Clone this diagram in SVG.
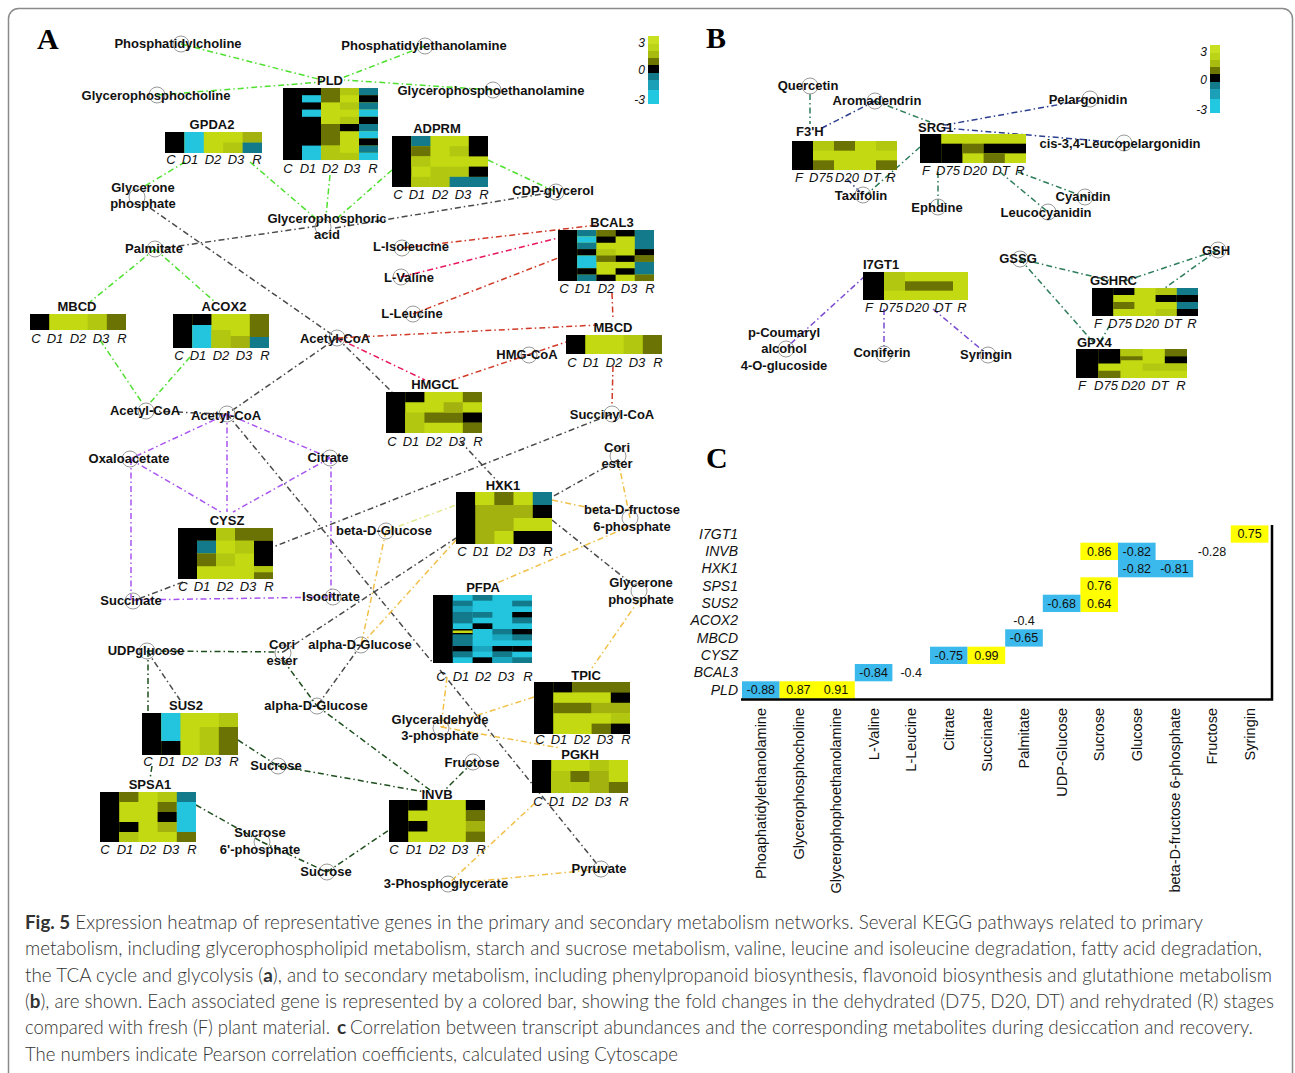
<svg xmlns="http://www.w3.org/2000/svg" width="1295" height="1073" viewBox="0 0 1295 1073">
<style>
text{font-family:"Liberation Sans",Arial,sans-serif;fill:#111}
.m{font-size:13px;font-weight:bold;text-anchor:middle}
.gl{font-size:13px;font-weight:bold;text-anchor:middle}
.gb{font-size:13px;font-weight:bold}
.cl{font-size:13px;font-style:italic;text-anchor:middle}
.nc{fill:none;stroke:#999;stroke-width:1}
.k{fill:#000}.y1{fill:#c3da12}.y2{fill:#b2c70f}.y3{fill:#a3b20e}.o{fill:#6b7304}.t{fill:#127a8a}.c{fill:#22c4de}.c2{fill:#1aa6bf}
.e{fill:none;stroke-width:1.5;stroke-dasharray:6 3 1.5 3}
.g{stroke:#4fe030}.d{stroke:#4a4a4a}.r{stroke:#d03a28}.p{stroke:#e8185a}.v{stroke:#a855f0}.yy{stroke:#f0c048}.yl{stroke:#e4e890}.dg{stroke:#1f4f1f}
.bg{stroke:#2e7d5b}.bb{stroke:#2c3f8f}.bp{stroke:#7a4bd0}
.rl{font-size:14px;font-style:italic;text-anchor:end}
.cv{font-size:12.5px;text-anchor:middle}
.xl{font-size:14.5px;text-anchor:end}
.cap{font-family:Lato,"Liberation Sans",sans-serif;font-weight:300;font-size:19px;fill:#333}
.capb{font-family:Lato,"Liberation Sans",sans-serif;font-weight:bold;font-size:19px;fill:#333}
.pl{font-family:"Liberation Serif",serif;font-weight:bold;font-size:30px;fill:#000}
.bar{font-size:12px;font-style:italic;text-anchor:end}
</style>
<rect x="0" y="0" width="1295" height="1073" fill="#fff"/>
<rect x="8.5" y="8.5" width="1284" height="1090" rx="10" fill="#fff" stroke="#8a8a8a" stroke-width="1.5"/>

<text class="pl" x="37" y="49">A</text>
<text class="pl" x="706" y="48">B</text>
<text class="pl" x="706" y="468">C</text>

<!-- colour bars -->
<g id="bar-a">
<rect x="648" y="36" width="11" height="8" fill="#c8e020"/><rect x="648" y="44" width="11" height="7" fill="#bcd418"/><rect x="648" y="51" width="11" height="7" fill="#a8bc10"/><rect x="648" y="58" width="11" height="7" fill="#6c7600"/><rect x="648" y="65" width="11" height="8" fill="#000"/><rect x="648" y="73" width="11" height="7" fill="#127a8a"/><rect x="648" y="80" width="11" height="10" fill="#1ba0b8"/><rect x="648" y="90" width="11" height="14" fill="#22c8e0"/>
<text class="bar" x="645" y="47">3</text><text class="bar" x="645" y="74">0</text><text class="bar" x="645" y="104">-3</text>
</g>
<g id="bar-b">
<rect x="1210" y="45" width="10" height="8" fill="#c8e020"/><rect x="1210" y="53" width="10" height="7" fill="#bcd418"/><rect x="1210" y="60" width="10" height="7" fill="#a8bc10"/><rect x="1210" y="67" width="10" height="7" fill="#6c7600"/><rect x="1210" y="74" width="10" height="8" fill="#000"/><rect x="1210" y="82" width="10" height="7" fill="#127a8a"/><rect x="1210" y="89" width="10" height="10" fill="#1ba0b8"/><rect x="1210" y="99" width="10" height="14" fill="#22c8e0"/>
<text class="bar" x="1207" y="56">3</text><text class="bar" x="1207" y="84">0</text><text class="bar" x="1207" y="114">-3</text>
</g>

<g id="connectors">
<!-- green glycerophospholipid -->
<line class="e g" x1="181" y1="44" x2="322" y2="80"/>
<line class="e g" x1="157" y1="95" x2="322" y2="82"/>
<line class="e g" x1="425" y1="46" x2="342" y2="78"/>
<line class="e g" x1="493" y1="90" x2="344" y2="80"/>
<line class="e g" x1="330" y1="175" x2="326" y2="216"/>
<line class="e g" x1="250" y1="162" x2="320" y2="222"/>
<line class="e g" x1="185" y1="162" x2="145" y2="186"/>
<line class="e g" x1="392" y1="170" x2="333" y2="222"/>
<line class="e g" x1="488" y1="160" x2="556" y2="192"/>
<line class="e g" x1="155" y1="249" x2="90" y2="302"/>
<line class="e g" x1="155" y1="249" x2="215" y2="302"/>
<line class="e g" x1="100" y1="340" x2="143" y2="404"/>
<line class="e g" x1="190" y1="357" x2="149" y2="404"/>
<!-- grey -->
<line class="e d" x1="318" y1="226" x2="165" y2="248"/>
<line class="e d" x1="335" y1="228" x2="548" y2="193"/>
<line class="e d" x1="150" y1="208" x2="337" y2="338"/>
<line class="e d" x1="337" y1="338" x2="392" y2="392"/>
<line class="e d" x1="460" y1="441" x2="500" y2="484"/>
<line class="e d" x1="337" y1="338" x2="227" y2="414"/>
<line class="e d" x1="150" y1="411" x2="224" y2="414"/>
<line class="e d" x1="612" y1="414" x2="273" y2="547"/>
<line class="e d" x1="618" y1="460" x2="552" y2="497"/>
<line class="e d" x1="552" y1="520" x2="633" y2="585"/>
<line class="e d" x1="227" y1="414" x2="433" y2="663"/>
<line class="e d" x1="440" y1="670" x2="601" y2="869"/>
<line class="e d" x1="183" y1="582" x2="133" y2="601"/>
<line class="e d" x1="283" y1="652" x2="456" y2="538"/>
<line class="e d" x1="361" y1="645" x2="317" y2="706"/>
<line class="e d" x1="147" y1="651" x2="180" y2="700"/>
<!-- red -->
<line class="e r" x1="402" y1="248" x2="598" y2="225"/>
<line class="e r" x1="413" y1="314" x2="558" y2="258"/>
<line class="e r" x1="612" y1="293" x2="613" y2="320"/>
<line class="e r" x1="337" y1="338" x2="598" y2="325"/>
<line class="e r" x1="450" y1="381" x2="566" y2="342"/>
<line class="e r" x1="613" y1="366" x2="612" y2="406"/>
<line class="e p" x1="401" y1="277" x2="558" y2="238"/>
<line class="e p" x1="337" y1="338" x2="425" y2="380"/>
<!-- purple TCA -->
<line class="e v" x1="227" y1="414" x2="130" y2="459"/>
<line class="e v" x1="227" y1="414" x2="227" y2="512"/>
<line class="e v" x1="227" y1="414" x2="330" y2="458"/>
<line class="e v" x1="130" y1="459" x2="221" y2="512"/>
<line class="e v" x1="330" y1="458" x2="233" y2="512"/>
<line class="e v" x1="131" y1="459" x2="131" y2="601"/>
<line class="e v" x1="331" y1="458" x2="331" y2="597"/>
<line class="e v" x1="133" y1="600" x2="333" y2="597"/>
<!-- orange glycolysis -->
<line class="e yy" x1="618" y1="460" x2="630" y2="518"/>
<line class="e yy" x1="552" y1="500" x2="600" y2="510"/>
<line class="e yy" x1="628" y1="527" x2="497" y2="583"/>
<line class="e yy" x1="386" y1="531" x2="361" y2="645"/>
<line class="e yy" x1="456" y1="540" x2="361" y2="645"/>
<line class="e yy" x1="447" y1="677" x2="441" y2="727"/>
<line class="e yy" x1="639" y1="600" x2="592" y2="668"/>
<line class="e yy" x1="534" y1="697" x2="441" y2="727"/>
<line class="e yy" x1="441" y1="727" x2="560" y2="748"/>
<line class="e yy" x1="535" y1="803" x2="448" y2="884"/>
<line class="e yy" x1="448" y1="884" x2="601" y2="869"/>
<line class="e yl" x1="386" y1="531" x2="456" y2="505"/>
<!-- dark green sucrose -->
<line class="e dg" x1="147" y1="651" x2="283" y2="652"/>
<line class="e dg" x1="148" y1="651" x2="148" y2="713"/>
<line class="e dg" x1="152" y1="766" x2="150" y2="779"/>
<line class="e dg" x1="238" y1="740" x2="278" y2="766"/>
<line class="e dg" x1="278" y1="766" x2="425" y2="792"/>
<line class="e dg" x1="283" y1="660" x2="317" y2="706"/>
<line class="e dg" x1="317" y1="706" x2="430" y2="790"/>
<line class="e dg" x1="473" y1="762" x2="445" y2="790"/>
<line class="e dg" x1="196" y1="805" x2="262" y2="842"/>
<line class="e dg" x1="262" y1="842" x2="327" y2="872"/>
<line class="e dg" x1="327" y1="872" x2="389" y2="830"/>
<!-- panel B -->
<line class="e bg" x1="810" y1="94" x2="810" y2="124"/>
<line class="e bg" x1="875" y1="101" x2="930" y2="122"/>
<line class="e bg" x1="920" y1="147" x2="866" y2="195"/>
<line class="e bg" x1="938" y1="172" x2="938" y2="207"/>
<line class="e bg" x1="1000" y1="172" x2="1048" y2="212"/>
<line class="e bg" x1="1018" y1="172" x2="1085" y2="197"/>
<line class="e bg" x1="1020" y1="259" x2="1112" y2="281"/>
<line class="e bg" x1="1020" y1="259" x2="1094" y2="343"/>
<line class="e bg" x1="1218" y1="250" x2="1125" y2="281"/>
<line class="e bg" x1="1218" y1="250" x2="1165" y2="288"/>
<line class="e bg" x1="1110" y1="325" x2="1100" y2="342"/>
<line class="e bb" x1="875" y1="101" x2="822" y2="128"/>
<line class="e bb" x1="945" y1="125" x2="1090" y2="99"/>
<line class="e bb" x1="945" y1="128" x2="1124" y2="143"/>
<line class="e bb" x1="847" y1="179" x2="860" y2="192"/>
<line class="e bp" x1="865" y1="276" x2="786" y2="348"/>
<line class="e bp" x1="884" y1="309" x2="884" y2="354"/>
<line class="e bp" x1="933" y1="309" x2="988" y2="355"/>
</g>

<!-- metabolite nodes panel A -->
<g id="n-phosphatidylcholine"><circle class="nc" cx="181" cy="44" r="8"/><text class="m" x="178" y="48">Phosphatidylcholine</text></g>
<g id="n-phosphatidylethanolamine"><circle class="nc" cx="425" cy="46" r="8"/><text class="m" x="424" y="50">Phosphatidylethanolamine</text></g>
<g id="n-glycerophosphocholine"><circle class="nc" cx="157" cy="95" r="8"/><text class="m" x="156" y="100">Glycerophosphocholine</text></g>
<g id="n-glycerophosphoethanolamine"><circle class="nc" cx="493" cy="90" r="8"/><text class="m" x="491" y="95">Glycerophosphoethanolamine</text></g>
<g id="n-glycerone-phosphate-1"><circle class="nc" cx="137" cy="197" r="8"/><text class="m" x="143" y="192">Glycerone</text><text class="m" x="143" y="208">phosphate</text></g>
<g id="n-cdp-glycerol"><circle class="nc" cx="556" cy="192" r="8"/><text class="m" x="553" y="195">CDP-glycerol</text></g>
<g id="n-glycerophosphoric-acid"><circle class="nc" cx="323" cy="227" r="8"/><text class="m" x="327" y="223">Glycerophosphoric</text><text class="m" x="327" y="239">acid</text></g>
<g id="n-l-isoleucine"><circle class="nc" cx="402" cy="248" r="8"/><text class="m" x="411" y="251">L-Isoleucine</text></g>
<g id="n-l-valine"><circle class="nc" cx="401" cy="277" r="8"/><text class="m" x="409" y="282">L-Valine</text></g>
<g id="n-l-leucine"><circle class="nc" cx="413" cy="314" r="8"/><text class="m" x="412" y="318">L-Leucine</text></g>
<g id="n-palmitate"><circle class="nc" cx="155" cy="249" r="8"/><text class="m" x="154" y="253">Palmitate</text></g>
<g id="n-acetyl-coa-1"><circle class="nc" cx="337" cy="338" r="8"/><text class="m" x="335" y="343">Acetyl-CoA</text></g>
<g id="n-hmg-coa"><circle class="nc" cx="529" cy="355" r="8"/><text class="m" x="527" y="359">HMG-CoA</text></g>
<g id="n-succinyl-coa"><circle class="nc" cx="612" cy="414" r="8"/><text class="m" x="612" y="419">Succinyl-CoA</text></g>
<g id="n-acetyl-coa-2"><circle class="nc" cx="146" cy="411" r="8"/><text class="m" x="145" y="415">Acetyl-CoA</text></g>
<g id="n-acetyl-coa-3"><circle class="nc" cx="227" cy="414" r="8"/><text class="m" x="226" y="420">Acetyl-CoA</text></g>
<g id="n-oxaloacetate"><circle class="nc" cx="130" cy="459" r="8"/><text class="m" x="129" y="463">Oxaloacetate</text></g>
<g id="n-citrate"><circle class="nc" cx="330" cy="458" r="8"/><text class="m" x="328" y="462">Citrate</text></g>
<g id="n-cori-ester-1"><circle class="nc" cx="618" cy="456" r="8"/><text class="m" x="617" y="452">Cori</text><text class="m" x="617" y="468">ester</text></g>
<g id="n-fructose-6p"><circle class="nc" cx="630" cy="518" r="8"/><text class="m" x="632" y="514">beta-D-fructose</text><text class="m" x="632" y="531">6-phosphate</text></g>
<g id="n-beta-d-glucose"><circle class="nc" cx="386" cy="531" r="8"/><text class="m" x="384" y="535">beta-D-Glucose</text></g>
<g id="n-succinate"><circle class="nc" cx="133" cy="601" r="8"/><text class="m" x="131" y="605">Succinate</text></g>
<g id="n-isocitrate"><circle class="nc" cx="333" cy="597" r="8"/><text class="m" x="331" y="601">Isocitrate</text></g>
<g id="n-glycerone-phosphate-2"><circle class="nc" cx="639" cy="591" r="8"/><text class="m" x="641" y="587">Glycerone</text><text class="m" x="641" y="604">phosphate</text></g>
<g id="n-udpglucose"><circle class="nc" cx="147" cy="651" r="8"/><text class="m" x="146" y="655">UDPglucose</text></g>
<g id="n-cori-ester-2"><circle class="nc" cx="283" cy="653" r="8"/><text class="m" x="282" y="649">Cori</text><text class="m" x="282" y="665">ester</text></g>
<g id="n-alpha-d-glucose-1"><circle class="nc" cx="361" cy="645" r="8"/><text class="m" x="360" y="649">alpha-D-Glucose</text></g>
<g id="n-alpha-d-glucose-2"><circle class="nc" cx="317" cy="706" r="8"/><text class="m" x="316" y="710">alpha-D-Glucose</text></g>
<g id="n-glyceraldehyde-3p"><circle class="nc" cx="441" cy="728" r="8"/><text class="m" x="440" y="724">Glyceraldehyde</text><text class="m" x="440" y="740">3-phosphate</text></g>
<g id="n-sucrose-1"><circle class="nc" cx="278" cy="766" r="8"/><text class="m" x="276" y="770">Sucrose</text></g>
<g id="n-fructose"><circle class="nc" cx="473" cy="762" r="8"/><text class="m" x="472" y="767">Fructose</text></g>
<g id="n-sucrose-6p"><circle class="nc" cx="262" cy="842" r="8"/><text class="m" x="260" y="837">Sucrose</text><text class="m" x="260" y="854">6'-phosphate</text></g>
<g id="n-sucrose-2"><circle class="nc" cx="327" cy="872" r="8"/><text class="m" x="326" y="876">Sucrose</text></g>
<g id="n-pyruvate"><circle class="nc" cx="601" cy="869" r="8"/><text class="m" x="599" y="873">Pyruvate</text></g>
<g id="n-3-phosphoglycerate"><circle class="nc" cx="448" cy="884" r="8"/><text class="m" x="446" y="888">3-Phosphoglycerate</text></g>

<!-- gene heatmaps panel A -->
<g id="g-gpda2"><text class="gl" x="212" y="129">GPDA2</text>
<g transform="translate(165,132)"><rect class="y1" width="97" height="21"/><rect class="k" width="19.4" height="21"/><rect class="c" x="19.4" width="19.4" height="21"/><rect class="y2" x="58.2" y="10.5" width="19.4" height="10.5"/><rect class="y3" x="77.6" width="19.4" height="10.5"/><rect class="t" x="77.6" y="10.5" width="19.4" height="10.5"/></g>
<text class="cl" y="164"><tspan x="171">C</tspan><tspan x="190">D1</tspan><tspan x="213">D2</tspan><tspan x="236">D3</tspan><tspan x="257">R</tspan></text></g>

<g id="g-pld"><text class="gl" x="330" y="85">PLD</text>
<g transform="translate(283,88)"><rect class="y1" width="95" height="72"/><rect class="k" width="38" height="72"/><rect class="c" x="19" y="7.2" width="19" height="7.2"/><rect class="c" x="19" y="21.6" width="19" height="7.2"/><rect class="c" x="19" y="57.6" width="19" height="14.4"/><rect class="o" x="38" width="19" height="14.4"/><rect class="o" x="38" y="36" width="19" height="21.6"/><rect class="y2" x="38" y="57.6" width="19" height="14.4"/><rect class="y2" x="57" width="19" height="7.2"/><rect class="y2" x="57" y="14.4" width="19" height="7.2"/><rect class="y2" x="57" y="28.8" width="19" height="7.2"/><rect class="k" x="57" y="36" width="19" height="7.2"/><rect class="y2" x="57" y="64.8" width="19" height="7.2"/><rect class="t" x="76" width="19" height="7.2"/><rect class="k" x="76" y="7.2" width="19" height="7.2"/><rect class="t" x="76" y="14.4" width="19" height="7.2"/><rect class="c" x="76" y="21.6" width="19" height="7.2"/><rect class="k" x="76" y="28.8" width="19" height="7.2"/><rect class="t" x="76" y="36" width="19" height="7.2"/><rect class="c" x="76" y="43.2" width="19" height="7.2"/><rect class="k" x="76" y="50.4" width="19" height="7.2"/><rect class="t" x="76" y="57.6" width="19" height="7.2"/><rect class="c" x="76" y="64.8" width="19" height="7.2"/></g>
<text class="cl" y="173"><tspan x="288">C</tspan><tspan x="308">D1</tspan><tspan x="330">D2</tspan><tspan x="352">D3</tspan><tspan x="373">R</tspan></text></g>

<g id="g-adprm"><text class="gl" x="437" y="133">ADPRM</text>
<g transform="translate(392,136)"><rect class="y1" width="96" height="51"/><rect class="k" width="19.2" height="51"/><rect class="t" x="19.2" width="19.2" height="10.2"/><rect class="o" x="19.2" y="10.2" width="19.2" height="10.2"/><rect class="y2" x="19.2" y="20.4" width="19.2" height="10.2"/><rect class="y2" x="19.2" y="40.8" width="19.2" height="10.2"/><rect class="y2" x="38.4" y="30.6" width="19.2" height="20.4"/><rect class="y2" x="57.6" y="10.2" width="19.2" height="10.2"/><rect class="y2" x="57.6" y="30.6" width="19.2" height="10.2"/><rect class="t" x="57.6" y="40.8" width="38.4" height="10.2"/><rect class="k" x="76.8" width="19.2" height="20.4"/><rect class="k" x="76.8" y="30.6" width="19.2" height="10.2"/></g>
<text class="cl" y="199"><tspan x="398">C</tspan><tspan x="417">D1</tspan><tspan x="440">D2</tspan><tspan x="463">D3</tspan><tspan x="484">R</tspan></text></g>

<g id="g-bcal3"><text class="gl" x="612" y="227">BCAL3</text>
<g transform="translate(558,230)"><rect class="y1" width="96" height="51"/><rect class="k" width="19.2" height="51"/>
<rect class="t" x="19.2" width="19.2" height="6.4"/><rect class="c" x="19.2" y="6.375" width="19.2" height="6.4"/><rect class="t" x="19.2" y="12.75" width="19.2" height="6.4"/><rect class="k" x="19.2" y="19.125" width="19.2" height="6.4"/><rect class="c" x="19.2" y="25.5" width="19.2" height="12.75"/><rect class="k" x="19.2" y="38.25" width="19.2" height="6.4"/><rect class="t" x="19.2" y="44.625" width="19.2" height="6.4"/>
<rect class="o" x="38.4" width="19.2" height="6.4"/><rect class="k" x="38.4" y="6.375" width="19.2" height="6.4"/><rect class="y2" x="38.4" y="19.125" width="19.2" height="6.4"/><rect class="o" x="38.4" y="25.5" width="19.2" height="6.4"/><rect class="k" x="38.4" y="44.625" width="19.2" height="6.4"/>
<rect class="k" x="57.6" width="19.2" height="6.4"/><rect class="k" x="57.6" y="25.5" width="19.2" height="6.4"/><rect class="k" x="57.6" y="38.25" width="19.2" height="6.4"/>
<rect class="t" x="76.8" width="19.2" height="19.2"/><rect class="k" x="76.8" y="19.125" width="19.2" height="6.4"/><rect class="o" x="76.8" y="25.5" width="19.2" height="6.4"/><rect class="t" x="76.8" y="31.875" width="19.2" height="12.75"/><rect class="o" x="76.8" y="44.625" width="19.2" height="6.4"/></g>
<text class="cl" y="293"><tspan x="564">C</tspan><tspan x="583">D1</tspan><tspan x="606">D2</tspan><tspan x="629">D3</tspan><tspan x="650">R</tspan></text></g>

<g id="g-mbcd-1"><text class="gl" x="77" y="311">MBCD</text>
<g transform="translate(30,314)"><rect class="y1" width="96" height="16"/><rect class="k" width="19.2" height="16"/><rect class="y2" x="57.6" width="19.2" height="16"/><rect class="o" x="76.8" width="19.2" height="16"/></g>
<text class="cl" y="343"><tspan x="36">C</tspan><tspan x="55">D1</tspan><tspan x="78">D2</tspan><tspan x="101">D3</tspan><tspan x="122">R</tspan></text></g>

<g id="g-acox2"><text class="gl" x="224" y="311">ACOX2</text>
<g transform="translate(173,314)"><rect class="y1" width="96" height="34"/><rect class="k" width="19.2" height="34"/><rect class="k" x="19.2" width="19.2" height="11"/><rect class="c" x="19.2" y="11" width="19.2" height="23"/><rect class="y2" x="38.4" y="16" width="19.2" height="18"/><rect class="y3" x="57.6" y="22" width="19.2" height="12"/><rect class="o" x="76.8" width="19.2" height="23"/><rect class="t" x="76.8" y="23" width="19.2" height="11"/></g>
<text class="cl" y="360"><tspan x="179">C</tspan><tspan x="198">D1</tspan><tspan x="221">D2</tspan><tspan x="244">D3</tspan><tspan x="265">R</tspan></text></g>

<g id="g-mbcd-2"><text class="gl" x="613" y="332">MBCD</text>
<g transform="translate(566,335)"><rect class="y1" width="96" height="19"/><rect class="k" width="19.2" height="19"/><rect class="y2" x="57.6" width="19.2" height="19"/><rect class="o" x="76.8" width="19.2" height="19"/></g>
<text class="cl" y="367"><tspan x="572">C</tspan><tspan x="591">D1</tspan><tspan x="614">D2</tspan><tspan x="637">D3</tspan><tspan x="658">R</tspan></text></g>

<g id="g-hmgcl"><text class="gl" x="435" y="389">HMGCL</text>
<g transform="translate(386,392)"><rect class="y1" width="96" height="41"/><rect class="k" width="19.2" height="41"/><rect class="k" x="19.2" width="19.2" height="10.25"/><rect class="y2" x="19.2" y="20.5" width="19.2" height="20.5"/><rect class="o" x="38.4" y="20.5" width="38.4" height="10.25"/><rect class="y3" x="57.6" y="10.25" width="19.2" height="10.25"/><rect class="o" x="76.8" width="19.2" height="10.25"/><rect class="k" x="76.8" y="20.5" width="19.2" height="10.25"/><rect class="o" x="76.8" y="30.75" width="19.2" height="10.25"/></g>
<text class="cl" y="446"><tspan x="392">C</tspan><tspan x="411">D1</tspan><tspan x="434">D2</tspan><tspan x="457">D3</tspan><tspan x="478">R</tspan></text></g>

<g id="g-hxk1"><text class="gl" x="503" y="490">HXK1</text>
<g transform="translate(456,492)"><rect class="y3" width="96" height="52"/><rect class="k" width="19.2" height="52"/><rect class="y1" x="19.2" width="19.2" height="13"/><rect class="o" x="38.4" width="19.2" height="13"/><rect class="y1" x="57.6" width="19.2" height="13"/><rect class="t" x="76.8" width="19.2" height="13"/><rect class="k" x="76.8" y="13" width="19.2" height="13"/><rect class="y1" x="57.6" y="26" width="38.4" height="13"/><rect class="y1" x="38.4" y="39" width="19.2" height="13"/><rect class="k" x="57.6" y="39" width="38.4" height="13"/></g>
<text class="cl" y="556"><tspan x="462">C</tspan><tspan x="481">D1</tspan><tspan x="504">D2</tspan><tspan x="527">D3</tspan><tspan x="548">R</tspan></text></g>

<g id="g-cysz"><text class="gl" x="227" y="525">CYSZ</text>
<g transform="translate(178,528)"><rect class="y1" width="95" height="51"/><rect class="k" width="19" height="51"/><rect class="k" x="19" width="19" height="12.75"/><rect class="t" x="19" y="12.75" width="19" height="12.75"/><rect class="o" x="19" y="25.5" width="19" height="12.75"/><rect class="y2" x="38" width="19" height="12.75"/><rect class="y2" x="38" y="25.5" width="19" height="12.75"/><rect class="o" x="57" width="38" height="12.75"/><rect class="y2" x="57" y="12.75" width="19" height="12.75"/><rect class="k" x="76" y="12.75" width="19" height="25.5"/><rect class="y2" x="76" y="38.25" width="19" height="6"/><rect class="o" x="76" y="44.25" width="19" height="6.75"/></g>
<text class="cl" y="591"><tspan x="183">C</tspan><tspan x="202">D1</tspan><tspan x="225">D2</tspan><tspan x="248">D3</tspan><tspan x="269">R</tspan></text></g>

<g id="g-pfpa"><text class="gl" x="483" y="592">PFPA</text>
<g transform="translate(433,595)"><rect class="c" width="99" height="68"/><rect class="k" width="19.8" height="68"/>
<rect class="t" x="19.8" y="5.67" width="19.8" height="5.67"/><rect class="c2" x="19.8" y="11.33" width="19.8" height="5.67"/><rect class="t" x="19.8" y="17" width="19.8" height="11.33"/><rect class="k" x="19.8" y="34" width="19.8" height="5.67"/><rect class="y1" x="19.8" y="35.5" width="19.8" height="2.5"/><rect class="t" x="19.8" y="39.67" width="19.8" height="11.33"/><rect class="k" x="19.8" y="51" width="19.8" height="5.67"/><rect class="t" x="19.8" y="56.67" width="19.8" height="5.67"/>
<rect class="t" x="39.6" width="19.8" height="5.67"/><rect class="t" x="39.6" y="17" width="19.8" height="5.67"/><rect class="k" x="39.6" y="28.33" width="19.8" height="5.67"/><rect class="c2" x="39.6" y="51" width="19.8" height="5.67"/><rect class="k" x="39.6" y="62.33" width="19.8" height="5.67"/>
<rect class="t" x="59.4" y="34" width="19.8" height="5.67"/><rect class="c2" x="59.4" y="39.67" width="19.8" height="5.67"/><rect class="k" x="59.4" y="51" width="19.8" height="5.67"/><rect class="t" x="59.4" y="56.67" width="19.8" height="5.67"/><rect class="c2" x="59.4" y="62.33" width="19.8" height="5.67"/>
<rect class="t" x="79.2" y="5.67" width="19.8" height="5.67"/><rect class="k" x="79.2" y="17" width="19.8" height="5.67"/><rect class="t" x="79.2" y="22.67" width="19.8" height="5.67"/><rect class="k" x="79.2" y="34" width="19.8" height="5.67"/><rect class="t" x="79.2" y="39.67" width="19.8" height="5.67"/><rect class="k" x="79.2" y="51" width="19.8" height="5.67"/><rect class="t" x="79.2" y="62.33" width="19.8" height="5.67"/></g>
<text class="cl" y="681"><tspan x="441">C</tspan><tspan x="461">D1</tspan><tspan x="483">D2</tspan><tspan x="506">D3</tspan><tspan x="528">R</tspan></text></g>

<g id="g-tpic"><text class="gl" x="586" y="680">TPIC</text>
<g transform="translate(534,682)"><rect class="y1" width="96" height="52"/><rect class="k" width="19.2" height="52"/><rect class="k" x="19.2" width="19.2" height="10.4"/><rect class="o" x="19.2" y="20.8" width="38.4" height="10.4"/><rect class="o" x="38.4" width="57.6" height="10.4"/><rect class="y3" x="57.6" y="20.8" width="38.4" height="10.4"/><rect class="o" x="57.6" y="41.6" width="19.2" height="10.4"/><rect class="k" x="76.8" y="10.4" width="19.2" height="10.4"/><rect class="y2" x="76.8" y="31.2" width="19.2" height="10.4"/><rect class="k" x="76.8" y="41.6" width="19.2" height="10.4"/></g>
<text class="cl" y="743.5"><tspan x="540">C</tspan><tspan x="559">D1</tspan><tspan x="582">D2</tspan><tspan x="605">D3</tspan><tspan x="626">R</tspan></text></g>

<g id="g-pgkh"><text class="gl" x="580" y="759">PGKH</text>
<g transform="translate(532,760)"><rect class="y1" width="96" height="33"/><rect class="k" width="19.2" height="33"/><rect class="y2" x="19.2" y="11" width="19.2" height="22"/><rect class="o" x="38.4" y="11" width="19.2" height="11"/><rect class="y2" x="38.4" y="22" width="19.2" height="11"/><rect class="y2" x="57.6" width="19.2" height="11"/><rect class="y3" x="57.6" y="11" width="19.2" height="22"/><rect class="o" x="76.8" y="22" width="19.2" height="11"/></g>
<text class="cl" y="806"><tspan x="538">C</tspan><tspan x="557">D1</tspan><tspan x="580">D2</tspan><tspan x="603">D3</tspan><tspan x="624">R</tspan></text></g>

<g id="g-sus2"><text class="gl" x="186" y="710">SUS2</text>
<g transform="translate(142,713)"><rect class="y1" width="96" height="42"/><rect class="k" width="19.2" height="42"/><rect class="c" x="19.2" width="19.2" height="28"/><rect class="k" x="19.2" y="28" width="19.2" height="14"/><rect class="y2" x="57.6" y="14" width="19.2" height="28"/><rect class="y2" x="76.8" width="19.2" height="14"/><rect class="o" x="76.8" y="14" width="19.2" height="28"/></g>
<text class="cl" y="766"><tspan x="148">C</tspan><tspan x="167">D1</tspan><tspan x="190">D2</tspan><tspan x="213">D3</tspan><tspan x="234">R</tspan></text></g>

<g id="g-spsa1"><text class="gl" x="150" y="789">SPSA1</text>
<g transform="translate(100,792)"><rect class="y1" width="96" height="50"/><rect class="k" width="19.2" height="50"/><rect class="o" x="19.2" width="19.2" height="10"/><rect class="k" x="19.2" y="30" width="19.2" height="10"/><rect class="y2" x="19.2" y="40" width="19.2" height="10"/><rect class="y2" x="57.6" width="19.2" height="10"/><rect class="o" x="57.6" y="10" width="19.2" height="10"/><rect class="k" x="57.6" y="20" width="19.2" height="10"/><rect class="y3" x="57.6" y="30" width="19.2" height="10"/><rect class="t" x="76.8" width="19.2" height="10"/><rect class="c" x="76.8" y="10" width="19.2" height="30"/><rect class="o" x="76.8" y="40" width="19.2" height="10"/></g>
<text class="cl" y="854"><tspan x="105">C</tspan><tspan x="125">D1</tspan><tspan x="148">D2</tspan><tspan x="171">D3</tspan><tspan x="192">R</tspan></text></g>

<g id="g-invb"><text class="gl" x="437" y="799">INVB</text>
<g transform="translate(389,800)"><rect class="y1" width="96" height="42"/><rect class="k" width="19.2" height="42"/><rect class="k" x="19.2" width="19.2" height="10.5"/><rect class="k" x="19.2" y="21" width="19.2" height="10.5"/><rect class="k" x="76.8" width="19.2" height="10.5"/><rect class="o" x="76.8" y="10.5" width="19.2" height="10.5"/><rect class="y3" x="76.8" y="21" width="19.2" height="10.5"/><rect class="o" x="76.8" y="31.5" width="19.2" height="10.5"/></g>
<text class="cl" y="854"><tspan x="394">C</tspan><tspan x="414">D1</tspan><tspan x="437">D2</tspan><tspan x="460">D3</tspan><tspan x="481">R</tspan></text></g>

<!-- panel B nodes -->
<g id="n-quercetin"><circle class="nc" cx="810" cy="86" r="8"/><text class="m" x="808" y="90">Quercetin</text></g>
<g id="n-aromadendrin"><circle class="nc" cx="875" cy="101" r="8"/><text class="m" x="877" y="105">Aromadendrin</text></g>
<g id="n-pelargonidin"><circle class="nc" cx="1090" cy="99" r="8"/><text class="m" x="1088" y="104">Pelargonidin</text></g>
<g id="n-leucopelargonidin"><circle class="nc" cx="1124" cy="143" r="8"/><text class="m" x="1120" y="148">cis-3,4-Leucopelargonidin</text></g>
<g id="n-taxifolin"><circle class="nc" cx="863" cy="195" r="8"/><text class="m" x="861" y="200">Taxifolin</text></g>
<g id="n-ephdine"><circle class="nc" cx="938" cy="207" r="8"/><text class="m" x="937" y="212">Ephdine</text></g>
<g id="n-cyanidin"><circle class="nc" cx="1085" cy="197" r="8"/><text class="m" x="1083" y="201">Cyanidin</text></g>
<g id="n-leucocyanidin"><circle class="nc" cx="1048" cy="212" r="8"/><text class="m" x="1046" y="217">Leucocyanidin</text></g>
<g id="n-gssg"><circle class="nc" cx="1020" cy="259" r="8"/><text class="m" x="1018" y="263">GSSG</text></g>
<g id="n-gsh"><circle class="nc" cx="1218" cy="250" r="8"/><text class="m" x="1216" y="255">GSH</text></g>
<g id="n-p-coumaryl"><circle class="nc" cx="786" cy="349" r="8"/><text class="m" x="784" y="337">p-Coumaryl</text><text class="m" x="784" y="353">alcohol</text><text class="m" x="784" y="370">4-O-glucoside</text></g>
<g id="n-coniferin"><circle class="nc" cx="884" cy="354" r="8"/><text class="m" x="882" y="357">Coniferin</text></g>
<g id="n-syringin"><circle class="nc" cx="988" cy="355" r="8"/><text class="m" x="986" y="359">Syringin</text></g>

<!-- panel B genes -->
<g id="g-f3h"><text class="gb" x="796" y="136">F3'H</text>
<g transform="translate(792,141)"><rect class="y1" width="105" height="29"/><rect class="k" width="21" height="29"/><rect class="y2" x="21" width="21" height="9.67"/><rect class="o" x="21" y="19.33" width="21" height="9.67"/><rect class="o" x="42" width="21" height="9.67"/><rect class="y2" x="84" width="21" height="9.67"/><rect class="o" x="84" y="19.33" width="21" height="9.67"/></g>
<text class="cl" y="182"><tspan x="799">F</tspan><tspan x="821">D75</tspan><tspan x="847">D20</tspan><tspan x="872">DT</tspan><tspan x="891">R</tspan></text></g>

<g id="g-srg1"><text class="gb" x="918" y="132">SRG1</text>
<g transform="translate(920,134)"><rect class="y1" width="106" height="29"/><rect class="k" width="21.2" height="29"/><rect class="k" x="21.2" y="9.67" width="21.2" height="19.33"/><rect class="o" x="42.4" y="9.67" width="21.2" height="9.67"/><rect class="k" x="63.6" y="9.67" width="42.4" height="9.67"/><rect class="o" x="63.6" y="19.33" width="21.2" height="9.67"/></g>
<text class="cl" y="175"><tspan x="926">F</tspan><tspan x="948">D75</tspan><tspan x="975">D20</tspan><tspan x="1001">DT</tspan><tspan x="1020">R</tspan></text></g>

<g id="g-i7gt1"><text class="gb" x="863" y="269">I7GT1</text>
<g transform="translate(863,272)"><rect class="y1" width="105" height="28"/><rect class="k" width="21" height="28"/><rect class="y2" x="21" width="21" height="18.67"/><rect class="o" x="42" y="9.33" width="48" height="9.33"/></g>
<text class="cl" y="312"><tspan x="869">F</tspan><tspan x="891">D75</tspan><tspan x="917">D20</tspan><tspan x="943">DT</tspan><tspan x="962">R</tspan></text></g>

<g id="g-gshrc"><text class="gb" x="1090" y="285">GSHRC</text>
<g transform="translate(1092,288)"><rect class="y1" width="106" height="28"/><rect class="k" width="21.2" height="28"/><rect class="k" x="21.2" width="21.2" height="7"/><rect class="o" x="21.2" y="14" width="21.2" height="7"/><rect class="y2" x="63.6" width="21.2" height="7"/><rect class="k" x="63.6" y="7" width="21.2" height="7"/><rect class="y2" x="63.6" y="21" width="21.2" height="7"/><rect class="t" x="84.8" width="21.2" height="7"/><rect class="k" x="84.8" y="7" width="21.2" height="7"/><rect class="t" x="84.8" y="14" width="21.2" height="7"/><rect class="k" x="84.8" y="21" width="21.2" height="7"/></g>
<text class="cl" y="328"><tspan x="1098">F</tspan><tspan x="1120">D75</tspan><tspan x="1147">D20</tspan><tspan x="1173">DT</tspan><tspan x="1192">R</tspan></text></g>

<g id="g-gpx4"><text class="gb" x="1077" y="347">GPX4</text>
<g transform="translate(1076,349)"><rect class="y1" width="111" height="29"/><rect class="k" width="22.2" height="29"/><rect class="k" x="22.2" width="22.2" height="14.5"/><rect class="o" x="22.2" y="21.75" width="22.2" height="7.25"/><rect class="y2" x="44.4" width="22.2" height="7.25"/><rect class="o" x="44.4" y="7.25" width="22.2" height="4"/><rect class="y2" x="66.6" y="14.5" width="22.2" height="7.25"/><rect class="o" x="88.8" width="22.2" height="7.25"/><rect class="k" x="88.8" y="7.25" width="22.2" height="7.25"/><rect class="y2" x="88.8" y="14.5" width="22.2" height="7.25"/></g>
<text class="cl" y="390"><tspan x="1082">F</tspan><tspan x="1106">D75</tspan><tspan x="1133">D20</tspan><tspan x="1160">DT</tspan><tspan x="1181">R</tspan></text></g>

<!-- panel C correlation heatmap -->
<g id="panel-c">
<g id="c-rows">
<text class="rl" x="738" y="539">I7GT1</text><text class="rl" x="738" y="556">INVB</text><text class="rl" x="738" y="573">HXK1</text><text class="rl" x="738" y="591">SPS1</text><text class="rl" x="738" y="608">SUS2</text><text class="rl" x="738" y="625">ACOX2</text><text class="rl" x="738" y="643">MBCD</text><text class="rl" x="738" y="660">CYSZ</text><text class="rl" x="738" y="677">BCAL3</text><text class="rl" x="738" y="695">PLD</text>
</g>
<g id="c-cells">
<rect x="1230.8" y="525.4" width="37.6" height="17.3" fill="#ffff00"/><text class="cv" x="1249.6" y="538.3">0.75</text>
<rect x="1080.4" y="542.7" width="37.6" height="17.3" fill="#ffff00"/><text class="cv" x="1099.2" y="555.6">0.86</text>
<rect x="1118" y="542.7" width="37.6" height="17.3" fill="#3bb8ec"/><text class="cv" x="1136.8" y="555.6">-0.82</text>
<text class="cv" x="1212" y="555.6">-0.28</text>
<rect x="1118" y="560" width="75.2" height="17.3" fill="#3bb8ec"/><text class="cv" x="1136.8" y="572.9">-0.82</text><text class="cv" x="1174.4" y="572.9">-0.81</text>
<rect x="1080.4" y="577.3" width="37.6" height="34.7" fill="#ffff00"/><text class="cv" x="1099.2" y="590.2">0.76</text><text class="cv" x="1099.2" y="607.6">0.64</text>
<rect x="1042.8" y="594.7" width="37.6" height="17.3" fill="#3bb8ec"/><text class="cv" x="1061.6" y="607.6">-0.68</text>
<text class="cv" x="1024" y="624.9">-0.4</text>
<rect x="1005.2" y="629.3" width="37.6" height="17.3" fill="#3bb8ec"/><text class="cv" x="1024" y="642.2">-0.65</text>
<rect x="930" y="646.7" width="37.6" height="17.3" fill="#3bb8ec"/><text class="cv" x="948.8" y="659.6">-0.75</text>
<rect x="967.6" y="646.7" width="37.6" height="17.3" fill="#ffff00"/><text class="cv" x="986.4" y="659.6">0.99</text>
<rect x="854.8" y="664" width="37.6" height="17.3" fill="#3bb8ec"/><text class="cv" x="873.6" y="676.9">-0.84</text>
<text class="cv" x="911.2" y="676.9">-0.4</text>
<rect x="742" y="681.3" width="37.6" height="17.3" fill="#3bb8ec"/><text class="cv" x="760.8" y="694.2">-0.88</text>
<rect x="779.6" y="681.3" width="75.2" height="17.3" fill="#ffff00"/><text class="cv" x="798.4" y="694.2">0.87</text><text class="cv" x="836" y="694.2">0.91</text>
</g>
<path d="M741 699.5 H1272 V525" fill="none" stroke="#000" stroke-width="2.5"/>
<g id="c-cols">
<text class="xl" transform="translate(766,708) rotate(-90)">Phoaphatidylethanolamine</text>
<text class="xl" transform="translate(803.6,708) rotate(-90)">Glycerophosphocholine</text>
<text class="xl" transform="translate(841.2,708) rotate(-90)">Glycerophophoethanolamine</text>
<text class="xl" transform="translate(878.8,708) rotate(-90)">L-Valine</text>
<text class="xl" transform="translate(916.4,708) rotate(-90)">L-Leucine</text>
<text class="xl" transform="translate(954,708) rotate(-90)">Citrate</text>
<text class="xl" transform="translate(991.6,708) rotate(-90)">Succinate</text>
<text class="xl" transform="translate(1029.2,708) rotate(-90)">Palmitate</text>
<text class="xl" transform="translate(1066.8,708) rotate(-90)">UDP-Glucose</text>
<text class="xl" transform="translate(1104.4,708) rotate(-90)">Sucrose</text>
<text class="xl" transform="translate(1142,708) rotate(-90)">Glucose</text>
<text class="xl" transform="translate(1179.6,708) rotate(-90)">beta-D-fructose 6-phosphate</text>
<text class="xl" transform="translate(1217.2,708) rotate(-90)">Fructose</text>
<text class="xl" transform="translate(1254.8,708) rotate(-90)">Syringin</text>
</g>
</g>

<!-- caption -->
<g id="caption">
<text class="cap" x="25" y="929" textLength="1178" lengthAdjust="spacingAndGlyphs"><tspan font-weight="bold">Fig. 5</tspan> Expression heatmap of representative genes in the primary and secondary metabolism networks. Several KEGG pathways related to primary</text>
<text class="cap" x="25" y="955" textLength="1237" lengthAdjust="spacingAndGlyphs">metabolism, including glycerophospholipid metabolism, starch and sucrose metabolism, valine, leucine and isoleucine degradation, fatty acid degradation,</text>
<text class="cap" x="25" y="982" textLength="1247" lengthAdjust="spacingAndGlyphs">the TCA cycle and glycolysis (<tspan font-weight="bold">a</tspan>), and to secondary metabolism, including phenylpropanoid biosynthesis, flavonoid biosynthesis and glutathione metabolism</text>
<text class="cap" x="25" y="1008" textLength="1249" lengthAdjust="spacingAndGlyphs">(<tspan font-weight="bold">b</tspan>), are shown. Each associated gene is represented by a colored bar, showing the fold changes in the dehydrated (D75, D20, DT) and rehydrated (R) stages</text>
<text class="cap" x="25" y="1034" font-size="17.5" textLength="305" lengthAdjust="spacingAndGlyphs">compared with fresh (F) plant material.</text>
<text class="capb" x="337" y="1034">c</text>
<text class="cap" x="350" y="1034" textLength="903" lengthAdjust="spacingAndGlyphs">Correlation between transcript abundances and the corresponding metabolites during desiccation and recovery.</text>
<text class="cap" x="25" y="1061" textLength="653" lengthAdjust="spacingAndGlyphs">The numbers indicate Pearson correlation coefficients, calculated using Cytoscape</text>
</g>
</svg>
